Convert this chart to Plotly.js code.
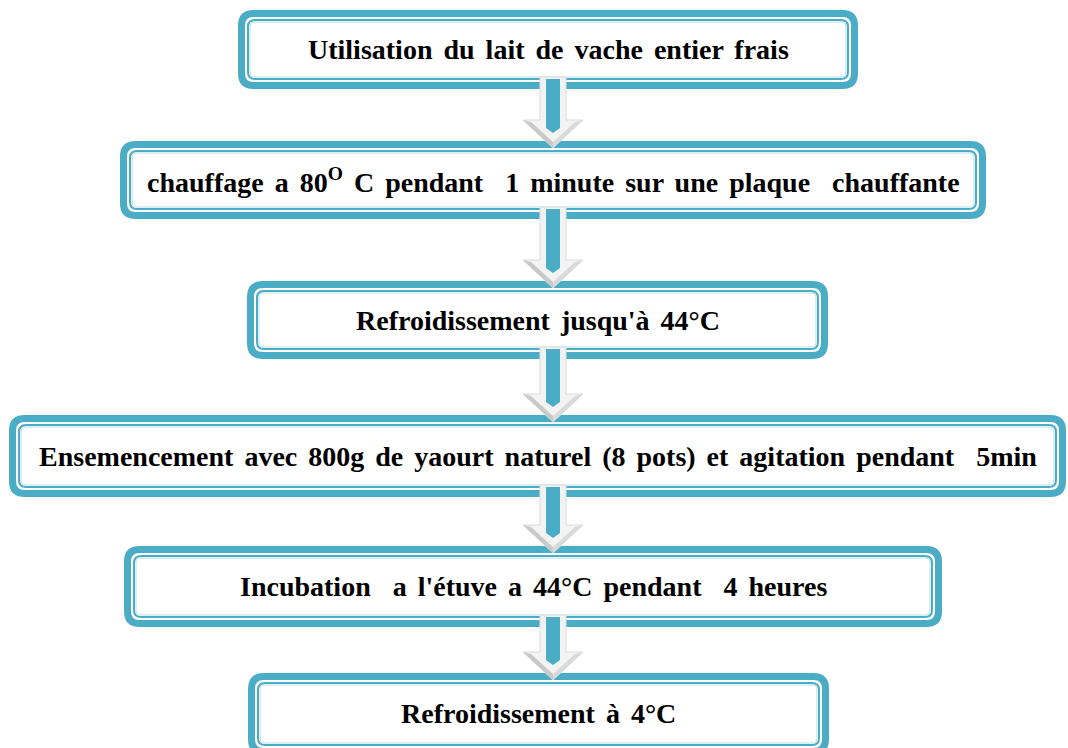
<!DOCTYPE html>
<html>
<head>
<meta charset="utf-8">
<script src="https://cdn.plot.ly/plotly-3.0.1.min.js"></script>
<style>
html,body{margin:0;padding:0;background:#fff;}
#chart{width:1068px;height:748px;}
.annotation-text{word-spacing:4px;}
</style>
</head>
<body>
<div id="chart"></div>
<script>
// Flowchart steps (text content)
const steps = [
  "Utilisation du lait de vache entier frais",
  "chauffage a 80<sup>O</sup> C pendant\u00a0 1 minute sur une plaque\u00a0 chauffante",
  "Refroidissement jusqu'à 44°C",
  "Ensemencement avec 800g de yaourt naturel (8 pots) et agitation pendant\u00a0 5min",
  "Incubation\u00a0 a l'étuve a 44°C pendant\u00a0 4 heures",
  "Refroidissement à 4°C"
];
// Box geometry (pixel space of the diagram)
const boxLeft   = [238, 120, 247, 9, 124, 248];
const boxRight  = [858, 986, 828, 1066, 942, 829];
const boxTop    = [10, 141, 281, 415, 546, 673];
const boxBottom = [89, 219, 359, 497, 627, 755];
const arrowX = 553;

const teal = '#4bacc6';
const shapes = [];
const annotations = [];

function rr(x0, y0, x1, y1, r) {
  return `M ${x0 + r},${y0} L ${x1 - r},${y0} Q ${x1},${y0} ${x1},${y0 + r} ` +
         `L ${x1},${y1 - r} Q ${x1},${y1} ${x1 - r},${y1} L ${x0 + r},${y1} ` +
         `Q ${x0},${y1} ${x0},${y1 - r} L ${x0},${y0 + r} Q ${x0},${y0} ${x0 + r},${y0} Z`;
}

steps.forEach((label, i) => {
  const x0 = boxLeft[i], x1 = boxRight[i], y0 = boxTop[i], y1 = boxBottom[i];
  shapes.push({type: 'path', xref: 'x', yref: 'y', layer: 'below',
    path: rr(x0 + 3.5, y0 + 3.5, x1 - 3.5, y1 - 3.5, 12),
    fillcolor: '#ffffff', line: {color: teal, width: 7}});
  shapes.push({type: 'path', xref: 'x', yref: 'y', layer: 'below',
    path: rr(x0 + 10, y0 + 10, x1 - 10, y1 - 10, 7),
    fillcolor: 'rgba(0,0,0,0)', line: {color: teal, width: 2}});
  shapes.push({type: 'path', xref: 'x', yref: 'y', layer: 'below',
    path: rr(x0 + 12, y0 + 12, x1 - 12, y1 - 12, 5),
    fillcolor: 'rgba(0,0,0,0)', line: {color: '#b9dfe9', width: 1}});
  const yc = (i === steps.length - 1) ? (y0 + 40) : (y0 + y1) / 2;
  annotations.push({x: (x0 + x1) / 2, y: yc, xref: 'x', yref: 'y',
    text: '<b>' + label + '</b>', showarrow: false,
    font: {family: 'Liberation Serif, Times New Roman, serif', size: 28, color: '#000'}});
});

for (let i = 0; i < steps.length - 1; i++) {
  const top = boxBottom[i] - 12;
  const nt = boxTop[i + 1];
  const hs = nt - 21, tip = nt + 7;
  const c = arrowX;
  // outer white arrow
  shapes.push({type: 'path', xref: 'x', yref: 'y', layer: 'above',
    path: `M ${c - 13},${top} L ${c + 13},${top} L ${c + 13},${hs} L ${c + 30},${hs} L ${c},${tip} L ${c - 30},${hs} L ${c - 13},${hs} Z`,
    fillcolor: '#f3f3f3', line: {color: '#dcdcdc', width: 1}});
  // head shading
  shapes.push({type: 'path', xref: 'x', yref: 'y', layer: 'above',
    path: `M ${c - 30},${hs} L ${c},${tip} L ${c},${tip - 6} L ${c - 22},${hs + 2} Z`,
    fillcolor: '#c9c9c9', line: {width: 0}});
  shapes.push({type: 'path', xref: 'x', yref: 'y', layer: 'above',
    path: `M ${c + 30},${hs} L ${c},${tip} L ${c},${tip - 6} L ${c + 22},${hs + 2} Z`,
    fillcolor: '#dadada', line: {width: 0}});
  // teal inner stripe
  shapes.push({type: 'path', xref: 'x', yref: 'y', layer: 'above',
    path: `M ${c - 7},${top + 2} L ${c + 7},${top + 2} L ${c + 7},${hs + 8} L ${c},${hs + 13} L ${c - 7},${hs + 8} Z`,
    fillcolor: teal, line: {width: 0}});
}

const layout = {
  width: 1068, height: 748,
  margin: {l: 0, r: 0, t: 0, b: 0},
  paper_bgcolor: '#fff', plot_bgcolor: '#fff',
  xaxis: {range: [0, 1068], visible: false, fixedrange: true},
  yaxis: {range: [748, 0], visible: false, fixedrange: true},
  shapes: shapes,
  annotations: annotations,
  showlegend: false
};

Plotly.newPlot('chart', [], layout, {staticPlot: true});
</script>
</body>
</html>
